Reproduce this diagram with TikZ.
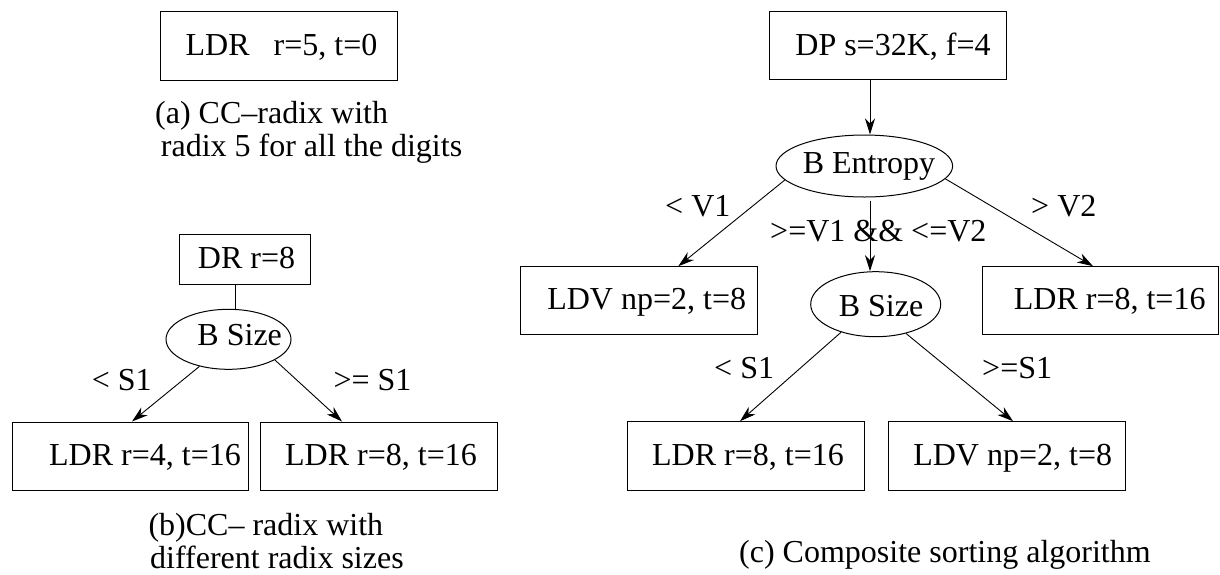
\documentclass[tikz,border=0pt]{standalone}
\usepackage{fontspec}
\setmainfont{Liberation Serif}
\usetikzlibrary{shapes.geometric,arrows.meta,calc}
\begin{document}
\begin{tikzpicture}[x=1pt,y=-1pt,
  font=\fontsize{32}{33}\selectfont,
  box/.style={draw, line width=1pt, rectangle, inner sep=0pt},
  oval/.style={draw, line width=1pt, ellipse, inner sep=0pt},
  txt/.style={inner sep=0pt, text height=0pt, text depth=0pt},
  lbl/.style={anchor=base west, inner sep=0pt},
  ln/.style={line width=0.9pt},
  arr/.style={line width=0.9pt, -{Stealth[length=16pt,width=10pt,inset=5pt]}}]
\useasboundingbox (0,0) rectangle (1220,574);
\fill[white] (0,0) rectangle (1220,574);

% ---------- panel (a)
\node[box, minimum width=237pt, minimum height=69pt,
  label={[txt,xshift=3pt,yshift=-9.5pt]center:{LDR\ \ \ r=5, t=0}}] (ldr5) at (278.5,45.5) {};
\node[lbl] (capa1) at (155,123) {(a) CC–radix with};
\node[lbl] (capa2) at (160.7,156) {radix 5 for all the digits};

% ---------- panel (b)
\node[box, minimum width=131pt, minimum height=50pt,
  label={[txt,xshift=2pt,yshift=-9.5pt]center:{DR r=8}}] (dr) at (244.5,259.2) {};
\node[oval, minimum width=125pt, minimum height=60pt,
  label={[txt,xshift=11.2pt,yshift=-5.7pt]center:{B Size}}] (bsb) at (228.5,339.3) {};
\node[box, minimum width=236pt, minimum height=68pt,
  label={[txt,xshift=15pt,yshift=-9.5pt]center:{LDR r=4, t=16}}] (ldrb1) at (130,456) {};
\node[box, minimum width=237pt, minimum height=68pt,
  label={[txt,xshift=2.5pt,yshift=-9.5pt]center:{LDR r=8, t=16}}] (ldrb2) at (378.5,456) {};
\node[lbl] (lsb1) at (91.7,390) {< S1};
\node[lbl] (lsb2) at (333.3,390) {>= S1};
\node[lbl] (capb1) at (148.3,535) {(b)CC– radix with};
\node[lbl] (capb2) at (150,568) {different radix sizes};

\draw[ln] ([xshift=-9.5pt]dr.south) -- ([xshift=-9.5pt]dr.south |- bsb.north);
\draw[arr] (bsb.223.8) -- ([xshift=2pt]ldrb1.north);
\draw[arr] (bsb.336) -- ([xshift=-36.5pt]ldrb2.north);

% ---------- panel (c)
\node[box, minimum width=236.7pt, minimum height=68.3pt,
  label={[txt,xshift=4.7pt,yshift=-9.8pt]center:{DP s=32K, f=4}}] (dp) at (888.3,45.2) {};
\node[oval, minimum width=176.6pt, minimum height=62pt,
  label={[txt,xshift=4.7pt,yshift=-7pt]center:{B Entropy}}] (be) at (864.3,166) {};
\node[box, minimum width=236.7pt, minimum height=67.6pt,
  label={[txt,xshift=7.4pt,yshift=-8.8pt]center:{LDV np=2, t=8}}] (ldv1) at (639.3,300.5) {};
\node[box, minimum width=236pt, minimum height=67.6pt,
  label={[txt,xshift=9.2pt,yshift=-8.8pt]center:{LDR r=8, t=16}}] (ldr2) at (1100.5,300.5) {};
\node[oval, minimum width=130pt, minimum height=65pt,
  label={[txt,xshift=5.3pt,yshift=-11.8pt]center:{B Size}}] (bsc) at (875.7,304.2) {};
\node[box, minimum width=237pt, minimum height=69pt,
  label={[txt,xshift=2.5pt,yshift=-9.5pt]center:{LDR r=8, t=16}}] (ldr3) at (745.5,456.2) {};
\node[box, minimum width=237pt, minimum height=69pt,
  label={[txt,xshift=6.2pt,yshift=-9.5pt]center:{LDV np=2, t=8}}] (ldv2) at (1006.5,456.2) {};
\node[lbl] (lv1) at (665,216.7) {< V1};
\node[lbl] (lv2) at (1031,216.7) {> V2};
\node[lbl] (lvm) at (770,241) {>=V1 \&\& <=V2};
\node[lbl] (lsc1) at (714,378) {< S1};
\node[lbl] (lsc2) at (982,378) {>=S1};
\node[lbl] (capc) at (739,562) {(c) Composite sorting algorithm};

\draw[arr] ([xshift=-18.3pt]dp.south) -- ([xshift=-18.3pt]dp.south |- be.north);
\draw[arr] (be.190.4) -- ([xshift=39pt]ldv1.north);
\draw[arr] (be.351.8) -- ([xshift=-7.5pt]ldr2.north);
\draw[arr] ([xshift=5.7pt,yshift=-3pt]be.south) -- ([xshift=5.7pt]be.south |- bsc.north);
\draw[arr] (bsc.219.3) -- ([xshift=-5.5pt]ldr3.north);
\draw[arr] (bsc.316.1) -- ([xshift=6.5pt]ldv2.north);
\end{tikzpicture}
\end{document}
